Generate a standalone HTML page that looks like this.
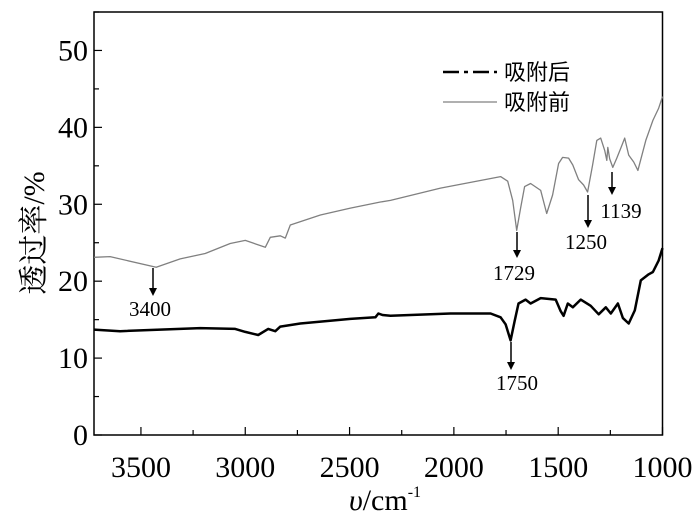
<!DOCTYPE html>
<html><head><meta charset="utf-8"><style>
html,body{margin:0;padding:0;background:#fff;}
svg{display:block;font-family:"Liberation Serif","Noto Serif CJK SC",serif;}
</style></head><body>
<svg id="chart" width="700" height="516" viewBox="0 0 700 516" xmlns="http://www.w3.org/2000/svg"></svg>
<script>
const xTicks=[3500,3000,2500,2000,1500,1000];
const yTicks=[0,10,20,30,40,50];
const beforeX=[3725,3648,3427,3312,3192,3072,3000,2904,2880,2832,2808,2784,2640,2496,2352,2304,2064,1776,1742,1718,1699,1680,1661,1632,1584,1555,1527,1498,1479,1450,1430,1402,1378,1359,1335,1315,1296,1277,1267,1262,1253,1238,1219,1200,1181,1162,1138,1118,1080,1046,1018,1000];
const beforeY=[23.1,23.2,21.8,22.9,23.6,24.9,25.3,24.4,25.7,25.9,25.6,27.3,28.6,29.5,30.3,30.5,32.1,33.6,33.0,30.5,26.6,29.5,32.3,32.7,31.8,28.8,31.2,35.3,36.1,36.0,35.1,33.2,32.5,31.6,35.1,38.3,38.6,37.0,35.7,37.4,35.9,34.8,36.0,37.3,38.6,36.4,35.5,34.4,38.3,40.9,42.5,44.0];
const afterX=[3725,3600,3216,3048,3000,2938,2890,2856,2832,2736,2496,2376,2362,2342,2304,2016,1824,1776,1752,1728,1709,1690,1656,1632,1584,1512,1488,1474,1454,1430,1392,1344,1306,1272,1248,1214,1190,1162,1133,1104,1066,1046,1018,1000];
const afterY=[13.7,13.5,13.9,13.8,13.4,13.0,13.8,13.5,14.1,14.5,15.1,15.3,15.8,15.6,15.5,15.8,15.8,15.3,14.4,12.3,14.8,17.1,17.6,17.1,17.8,17.6,16.1,15.5,17.1,16.6,17.6,16.8,15.7,16.6,15.8,17.1,15.2,14.5,16.2,20.1,20.9,21.2,22.7,24.3];
const L=94,R=662.5,T=12,B=435,X0=3725,X1=1000,Y0=0,Y1=55;
const sx=v=>L+(X0-v)/(X0-X1)*(R-L);
const sy=v=>B-(v-Y0)/(Y1-Y0)*(B-T);
const svg=document.getElementById('chart');
const NS='http://www.w3.org/2000/svg';
function mk(tag,attrs,parent){const e=document.createElementNS(NS,tag);for(const k in attrs)e.setAttribute(k,attrs[k]);(parent||svg).appendChild(e);return e;}
let fr=mk('rect',{x:L,y:T,width:R-L,height:B-T,fill:'none',stroke:'#000','stroke-width':1.5});


for(let v=3500;v>=1000;v-=250){const major=v%500===0;
 const t=mk('line',{x1:sx(v),x2:sx(v),y1:B,y2:B-(major?8:5),stroke:'#000','stroke-width':1.2});
 
 }
xTicks.forEach(v=>{const t=mk('text',{x:sx(v),y:477,'font-size':30,'text-anchor':'middle'});t.textContent=v;
 
 });
for(let v=0;v<=55;v+=5){const major=v%10===0;
 const t=mk('line',{x1:L,x2:L+(major?8:5),y1:sy(v),y2:sy(v),stroke:'#000','stroke-width':1.2});
 
 }
yTicks.forEach(v=>{const t=mk('text',{x:88,y:sy(v)+10,'font-size':30,'text-anchor':'end'});t.textContent=v;
 
 });
let xt=mk('text',{x:385,y:510,'font-size':30,'text-anchor':'middle'});
xt.innerHTML='<tspan font-style="italic">υ</tspan>/cm<tspan dy="-13" font-size="16">-1</tspan>';


let yt=mk('text',{x:0,y:0,'font-size':30,'text-anchor':'middle',transform:'translate(44,233) rotate(-90)'});
yt.textContent='透过率/%';


function path(xs,ys){return xs.map((x,i)=>(i?'L':'M')+sx(x).toFixed(1)+' '+sy(ys[i]).toFixed(1)).join(' ');}
let pb=mk('path',{d:path(beforeX,beforeY),fill:'none',stroke:'#808080','stroke-width':1.3,'stroke-linejoin':'round'});


let pa=mk('path',{d:path(afterX,afterY),fill:'none',stroke:'#000','stroke-width':2.5,'stroke-linejoin':'round'});


const ann=[[153,268,296,'3400',150,316],[517,232,258,'1729',514,280],[588,195,228,'1250',586,249],[612,172,195,'1139',621,218],[511,342,370,'1750',517,390]];
ann.forEach(a=>{
 const g=mk('g',{});
 
 
 mk('line',{x1:a[0],x2:a[0],y1:a[1],y2:a[2]-6,stroke:'#000','stroke-width':1.5},g);
 mk('polygon',{points:`${a[0]-4},${a[2]-8} ${a[0]+4},${a[2]-8} ${a[0]},${a[2]}`,fill:'#000'},g);
 const t=mk('text',{x:a[4],y:a[5],'font-size':21,'text-anchor':'middle'},g);t.textContent=a[3];
});
const lg=mk('g',{});


mk('line',{x1:443,x2:497,y1:72,y2:72,stroke:'#000','stroke-width':2.5,'stroke-dasharray':'16 5 4 5'},lg);
let l1=mk('text',{x:504,y:80,'font-size':22,'font-family':'"Noto Sans CJK SC",sans-serif'},lg);l1.textContent='吸附后';
mk('line',{x1:443,x2:497,y1:102,y2:102,stroke:'#808080','stroke-width':1.3},lg);
let l2=mk('text',{x:504,y:110,'font-size':22,'font-family':'"Noto Sans CJK SC",sans-serif'},lg);l2.textContent='吸附前';
</script>
</body></html>
